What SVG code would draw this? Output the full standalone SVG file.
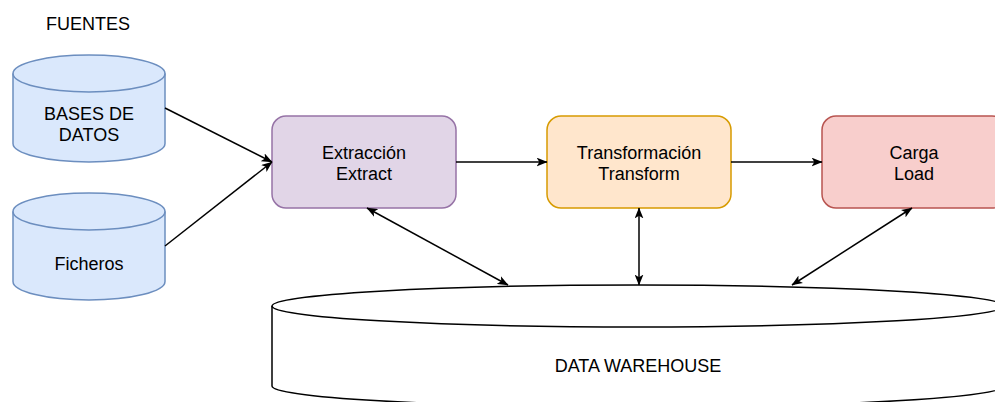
<svg xmlns="http://www.w3.org/2000/svg" width="995" height="402" viewBox="0 0 995 402">
<defs>
<style>
text{font-family:"Liberation Sans",Arial,sans-serif;font-size:18px;fill:#000;text-anchor:middle}
.edge{stroke:#000;stroke-width:1.5;fill:none}
</style>
<marker id="ah" viewBox="0 0 10 8" refX="9.5" refY="4" markerWidth="11" markerHeight="9" markerUnits="userSpaceOnUse" orient="auto-start-reverse">
<path d="M0,0 L10,4 L0,8 L2.5,4 Z" fill="#000"/>
</marker>
</defs>
<rect width="995" height="402" fill="#fff"/>
<text id="fuentes" x="88" y="30">FUENTES</text>
<g id="bases">
<path d="M13,73.5 A76,18.5 0 0 1 165,73.5 L165,143.5 A76,18.5 0 0 1 13,143.5 Z" fill="#dae8fc" stroke="#6c8ebf" stroke-width="1.5"/>
<path d="M13,73.5 A76,18.5 0 0 0 165,73.5" fill="none" stroke="#6c8ebf" stroke-width="1.5"/>
<text x="89" y="120">BASES DE</text>
<text x="89" y="141">DATOS</text>
</g>
<g id="ficheros">
<path d="M13,211.5 A76,18.5 0 0 1 165,211.5 L165,281.5 A76,18.5 0 0 1 13,281.5 Z" fill="#dae8fc" stroke="#6c8ebf" stroke-width="1.5"/>
<path d="M13,211.5 A76,18.5 0 0 0 165,211.5" fill="none" stroke="#6c8ebf" stroke-width="1.5"/>
<text x="89" y="270">Ficheros</text>
</g>
<g id="extract">
<rect x="272" y="116" width="184" height="92" rx="14" fill="#e1d5e7" stroke="#9673a6" stroke-width="1.5"/>
<text x="364" y="159">Extracción</text>
<text x="364" y="180">Extract</text>
</g>
<g id="transform">
<rect x="547" y="116" width="184" height="92" rx="14" fill="#ffe6cc" stroke="#d79b00" stroke-width="1.5"/>
<text x="639" y="159">Transformación</text>
<text x="639" y="180">Transform</text>
</g>
<g id="load">
<rect x="822" y="116" width="184" height="92" rx="14" fill="#f8cecc" stroke="#b85450" stroke-width="1.5"/>
<text x="914" y="159">Carga</text>
<text x="914" y="180">Load</text>
</g>
<g id="dw">
<path d="M272,306 A366,21 0 0 1 1004,306 L1004,386 A366,21 0 0 1 272,386 Z" fill="#fff" stroke="#000" stroke-width="1.5"/>
<path d="M272,306 A366,21 0 0 0 1004,306" fill="none" stroke="#000" stroke-width="1.5"/>
<text x="638" y="372">DATA WAREHOUSE</text>
</g>
<g id="connectors">
<line class="edge" x1="165" y1="108" x2="272" y2="162" marker-end="url(#ah)"/>
<line class="edge" x1="165" y1="246" x2="272" y2="162" marker-end="url(#ah)"/>
<line class="edge" x1="456" y1="162" x2="547" y2="162" marker-end="url(#ah)"/>
<line class="edge" x1="731" y1="162" x2="822" y2="162" marker-end="url(#ah)"/>
<line class="edge" x1="367" y1="208" x2="508" y2="285" marker-start="url(#ah)" marker-end="url(#ah)"/>
<line class="edge" x1="639" y1="208" x2="639" y2="285" marker-start="url(#ah)" marker-end="url(#ah)"/>
<line class="edge" x1="912" y1="208" x2="792" y2="285" marker-start="url(#ah)" marker-end="url(#ah)"/>
</g>
</svg>
